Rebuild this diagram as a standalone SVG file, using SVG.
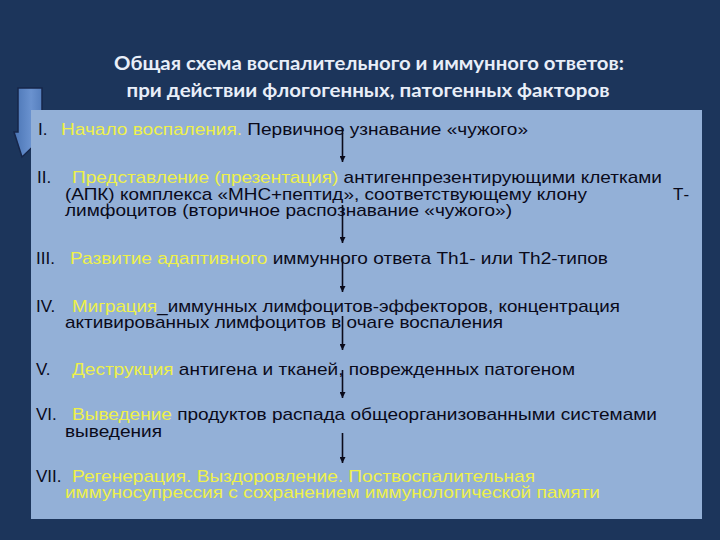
<svg xmlns="http://www.w3.org/2000/svg" width="720" height="540" viewBox="0 0 720 540">
<defs>
<linearGradient id="bigArrow" x1="0" y1="0" x2="1" y2="0">
<stop offset="0" stop-color="#4a74b4"/>
<stop offset="0.5" stop-color="#6a92cf"/>
<stop offset="1" stop-color="#4a74b4"/>
</linearGradient>
<marker id="ah" viewBox="0 0 10 10" refX="10" refY="5" markerWidth="9" markerHeight="6" markerUnits="userSpaceOnUse" orient="auto">
<path d="M0,0 L10,5 L0,10 z" fill="#0a0a1a"/>
</marker>
<style>
.title{font-family:Lato,"Open Sans","Liberation Sans",sans-serif;font-weight:bold;font-size:18px;fill:#e8eef8;text-anchor:middle}
.t{font-family:"Liberation Sans",Arial,sans-serif;font-size:17px;fill:#0a0a1a}
.y{fill:#eef04a}
.conn{stroke:#0a0a1a;stroke-width:1.6;fill:none;marker-end:url(#ah)}
</style>
</defs>
<rect x="0" y="0" width="720" height="540" fill="#1c355b"/>
<g id="title">
<text class="title" x="369" y="70" textLength="510" lengthAdjust="spacingAndGlyphs">Общая схема воспалительного и иммунного ответов:</text>
<text class="title" x="368" y="97" textLength="483" lengthAdjust="spacingAndGlyphs">при действии флогогенных, патогенных факторов</text>
</g>
<g id="big-arrow">
<path d="M18,88 L42,88 L42,132 L48,132 L22,157 L14,132 L18,132 Z" fill="url(#bigArrow)" stroke="#16264a" stroke-width="1.5"/>
</g>
<g id="panel">
<rect x="31" y="110" width="671" height="409" fill="#93b0d7"/>
</g>
<g id="step1">
<text class="t" x="38" y="135">I.</text>
<text class="t" x="61" y="135" textLength="467" lengthAdjust="spacingAndGlyphs"><tspan class="y">Начало воспаления.</tspan> Первичное узнавание «чужого»</text>
</g>
<g id="step2">
<text class="t" x="37" y="183">II.</text>
<text class="t" x="72" y="183" textLength="590" lengthAdjust="spacingAndGlyphs"><tspan class="y">Представление (презентация)</tspan> антигенпрезентирующими клетками</text>
<text class="t" x="65" y="200" textLength="522" lengthAdjust="spacingAndGlyphs">(АПК) комплекса «МНС+пептид», соответствующему клону</text>
<text class="t" x="673" y="200">Т-</text>
<text class="t" x="65" y="216" textLength="447" lengthAdjust="spacingAndGlyphs">лимфоцитов (вторичное распознавание «чужого»)</text>
</g>
<g id="step3">
<text class="t" x="36" y="264">III.</text>
<text class="t" x="70" y="264" textLength="538" lengthAdjust="spacingAndGlyphs"><tspan class="y">Развитие адаптивного</tspan> иммунного ответа Th1- или Th2-типов</text>
</g>
<g id="step4">
<text class="t" x="36" y="312">IV.</text>
<text class="t" x="72" y="312" textLength="548" lengthAdjust="spacingAndGlyphs"><tspan class="y">Миграция</tspan>_иммунных лимфоцитов-эффекторов, концентрация</text>
<text class="t" x="65" y="328" textLength="438" lengthAdjust="spacingAndGlyphs">активированных лимфоцитов в очаге воспаления</text>
</g>
<g id="step5">
<text class="t" x="36" y="375">V.</text>
<text class="t" x="72" y="375" textLength="503" lengthAdjust="spacingAndGlyphs"><tspan class="y">Деструкция</tspan> антигена и тканей, поврежденных патогеном</text>
</g>
<g id="step6">
<text class="t" x="36" y="420">VI.</text>
<text class="t" x="72" y="420" textLength="585" lengthAdjust="spacingAndGlyphs"><tspan class="y">Выведение</tspan> продуктов распада общеорганизованными системами</text>
<text class="t" x="65" y="437" textLength="97" lengthAdjust="spacingAndGlyphs">выведения</text>
</g>
<g id="step7">
<text class="t" x="36" y="482">VII.</text>
<text class="t y" x="72" y="482" textLength="463" lengthAdjust="spacingAndGlyphs">Регенерация. Выздоровление. Поствоспалительная</text>
<text class="t y" x="65" y="498" textLength="535" lengthAdjust="spacingAndGlyphs">иммуносупрессия с сохранением иммунологической памяти</text>
</g>
<g id="connectors">
<line class="conn" x1="342.5" y1="128" x2="342.5" y2="162"/>
<line class="conn" x1="342.5" y1="205" x2="342.5" y2="243"/>
<line class="conn" x1="342.5" y1="257" x2="342.5" y2="292"/>
<line class="conn" x1="342.5" y1="316" x2="342.5" y2="350"/>
<line class="conn" x1="342.5" y1="370" x2="342.5" y2="398"/>
<line class="conn" x1="342.5" y1="433" x2="342.5" y2="463"/>
</g>
</svg>
